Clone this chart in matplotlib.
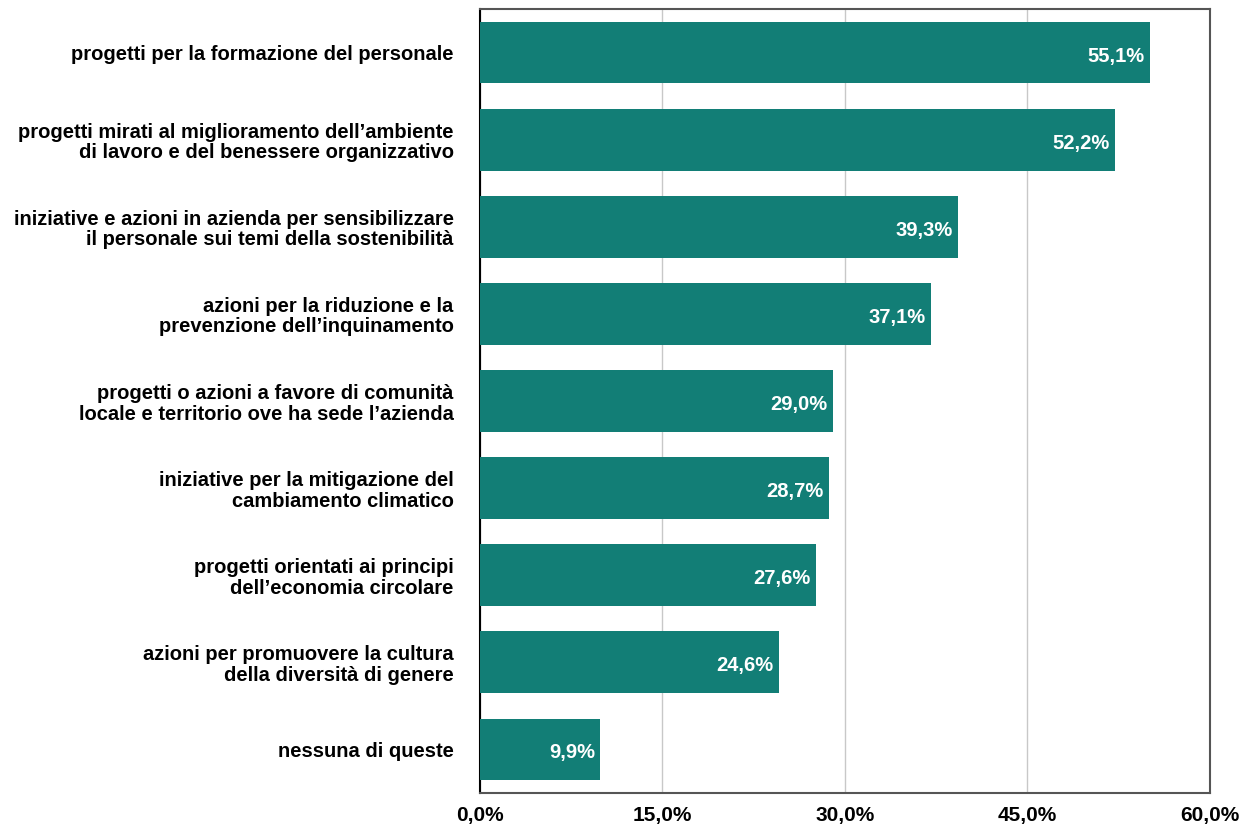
import matplotlib
matplotlib.use("Agg")
import matplotlib.pyplot as plt

categories = [
    "progetti per la formazione del personale",
    "progetti mirati al miglioramento dell\u2019ambiente\ndi lavoro e del benessere organizzativo",
    "iniziative e azioni in azienda per sensibilizzare\nil personale sui temi della sostenibilit\u00e0",
    "azioni per la riduzione e la\nprevenzione dell\u2019inquinamento",
    "progetti o azioni a favore di comunit\u00e0\nlocale e territorio ove ha sede l\u2019azienda",
    "iniziative per la mitigazione del\ncambiamento climatico",
    "progetti orientati ai principi\ndell\u2019economia circolare",
    "azioni per promuovere la cultura\ndella diversit\u00e0 di genere",
    "nessuna di queste",
]
values = [55.1, 52.2, 39.3, 37.1, 29.0, 28.7, 27.6, 24.6, 9.9]
xticks = [0, 15, 30, 45, 60]

plt.rcParams["font.family"] = ["Liberation Sans", "DejaVu Sans"]

fig = plt.figure(figsize=(12.46, 8.27), dpi=100)
ax = fig.add_axes([0.3852, 0.0411, 0.5859, 0.948])

ypos = list(range(len(categories)))
ax.barh(ypos, values, height=0.71, color="#127E76", zorder=3)
for y, v in zip(ypos, values):
    # nudge down a touch so the digits sit centred like the original
    ax.text(v - 0.45, y + 0.04, f"{v:.1f}%".replace(".", ","), ha="right",
            va="center", color="white", fontsize=14.5, fontweight="bold", zorder=4)

ax.set_ylim(len(categories) - 0.5, -0.5)
ax.set_xlim(0, 60)
ax.set_yticks(ypos)
ax.set_yticklabels(categories, fontsize=14.5, fontweight="bold", linespacing=1.1)
ax.set_xticks(xticks)
ax.set_xticklabels([f"{t:.1f}%".replace(".", ",") for t in xticks],
                   fontsize=15, fontweight="bold")
ax.tick_params(axis="both", length=0)
ax.tick_params(axis="y", pad=19)
ax.tick_params(axis="x", pad=9)
ax.grid(axis="x", color="#c8c8c8", linewidth=1, zorder=0)

for side in ["top", "right", "bottom"]:
    ax.spines[side].set_color("#555555")
    ax.spines[side].set_linewidth(1.5)
ax.spines["left"].set_color("black")
ax.spines["left"].set_linewidth(1.5)

fig.savefig("out.png", dpi=100)
